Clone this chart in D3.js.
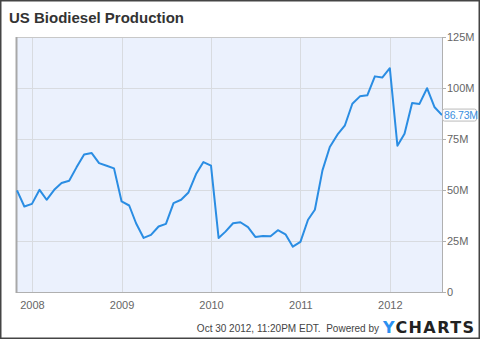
<!DOCTYPE html>
<html>
<head>
<meta charset="utf-8">
<script src="https://cdn.jsdelivr.net/npm/d3@7/dist/d3.min.js"></script>
<style>
html,body{margin:0;padding:0;background:#fff;}
svg{display:block;font-family:"Liberation Sans",Arial,sans-serif;}
</style>
</head>
<body>
<svg id="chart" width="480" height="339"></svg>
<script>
// Monthly data, Nov 2007 .. Aug 2012 (millions of gallons)
const startMonth = [2007, 10]; // year, zero-based month (Nov 2007)
const values = [
  49.8, 41.9,
  43.2, 50.1, 45.2, 50.1, 53.4, 54.5, 61.1, 67.4, 68.1, 63.2, 61.9, 60.6,
  44.4, 42.4, 33.7, 26.5, 28.0, 32.1, 33.4, 43.6, 45.2, 48.8, 57.8, 63.7,
  61.9, 26.5, 29.6, 33.7, 34.2, 31.8, 27.0, 27.5, 27.3, 30.3, 28.3, 22.2,
  24.6, 35.4, 40.3, 59.6, 71.1, 77.1, 81.5, 92.3, 95.9, 96.4, 105.7, 105.1,
  109.7, 71.7, 77.6, 92.7, 92.2, 99.9, 90.7, 86.73
];
const yTicks = [0, 25, 50, 75, 100, 125];
const yTickLabels = ["0", "25M", "50M", "75M", "100M", "125M"];
const xTickYears = [2008, 2009, 2010, 2011, 2012];
const xTickLabels = ["2008", "2009", "2010", "2011", "2012"];
const lastLabel = "86.73M";
const title = "US Biodiesel Production";
const footer = "Oct 30 2012, 11:20PM EDT.  Powered by";

const dates = values.map((v, i) => new Date(startMonth[0], startMonth[1] + i, 1));
const data = values.map((v, i) => ({date: dates[i], value: v}));

const svg = d3.select("#chart");
const W = 480, H = 339;
const pLeft = 17, pRight = 442, pTop = 37, pBottom = 292;

// outer border
svg.append("rect").attr("x", 0.75).attr("y", 0.75).attr("width", W - 1.5).attr("height", H - 1.5)
  .attr("fill", "#fff").attr("stroke", "#444").attr("stroke-width", 1.5);

svg.append("text").attr("x", 9).attr("y", 23).text(title)
  .attr("font-size", 15).attr("font-weight", "bold").attr("fill", "#333");

const x = d3.scaleTime().domain([dates[0], dates[dates.length - 1]]).range([pLeft, pRight]);
const y = d3.scaleLinear().domain([0, 125]).range([pBottom, pTop]);

svg.append("rect").attr("x", pLeft).attr("y", pTop).attr("width", pRight - pLeft).attr("height", pBottom - pTop)
  .attr("fill", "#ebf1fd");

// gridlines
svg.append("g").selectAll("line").data(yTicks.slice(1, -1)).join("line")
  .attr("x1", pLeft).attr("x2", pRight).attr("y1", d => Math.round(y(d)) + 0.5).attr("y2", d => Math.round(y(d)) + 0.5)
  .attr("stroke", "#d8dbe0").attr("stroke-width", 1);
svg.append("g").selectAll("line").data(xTickYears).join("line")
  .attr("x1", d => Math.round(x(new Date(d, 0, 1))) + 0.5).attr("x2", d => Math.round(x(new Date(d, 0, 1))) + 0.5)
  .attr("y1", pTop).attr("y2", pBottom)
  .attr("stroke", "#d8dbe0").attr("stroke-width", 1);

// frame
svg.append("line").attr("x1", pLeft).attr("x2", pRight).attr("y1", pTop + 0.5).attr("y2", pTop + 0.5).attr("stroke", "#c8c8c8");
svg.append("line").attr("x1", pLeft).attr("x2", pRight + 1).attr("y1", pBottom + 0.5).attr("y2", pBottom + 0.5).attr("stroke", "#b0b0b0");
svg.append("line").attr("x1", pLeft - 0.5).attr("x2", pLeft - 0.5).attr("y1", pTop).attr("y2", pBottom + 1).attr("stroke", "#a8a8a8").attr("stroke-width", 2);
svg.append("line").attr("x1", pRight + 0.5).attr("x2", pRight + 0.5).attr("y1", pTop).attr("y2", pBottom + 1).attr("stroke", "#b0b0b0");

// y axis labels
const yAxis = d3.axisRight(y).tickValues(yTicks).tickFormat((d, i) => yTickLabels[i]).tickSize(3).tickPadding(1);
const ya = svg.append("g").attr("transform", `translate(${pRight + 1},0)`).call(yAxis);
ya.select(".domain").remove();
ya.selectAll("line").attr("stroke", "#b0b0b0");
ya.selectAll("text").attr("font-size", 11).attr("fill", "#666").attr("font-family", "Liberation Sans, Arial, sans-serif");

// x axis labels
const xAxis = d3.axisBottom(x).tickValues(xTickYears.map(d => new Date(d, 0, 1)))
  .tickFormat((d, i) => xTickLabels[i]).tickSize(0).tickPadding(9);
const xa = svg.append("g").attr("transform", `translate(0,${pBottom})`).call(xAxis);
xa.select(".domain").remove();
xa.selectAll("text").attr("font-size", 11).attr("fill", "#666").attr("font-family", "Liberation Sans, Arial, sans-serif");

// line
const line = d3.line().x(d => x(d.date)).y(d => y(d.value));
svg.append("path").datum(data).attr("d", line)
  .attr("fill", "none").attr("stroke", "#2a8de3").attr("stroke-width", 2).attr("stroke-linejoin", "round");

// last value label
const last = data[data.length - 1];
const ly = y(last.value);
const lg = svg.append("g");
lg.append("rect").attr("x", pRight + 0.5).attr("y", ly - 6).attr("width", 34).attr("height", 12)
  .attr("rx", 2).attr("fill", "#fff").attr("stroke", "#bbb");
lg.append("text").attr("x", pRight + 2).attr("y", ly + 3.8).text(lastLabel)
  .attr("font-size", 10.5).attr("letter-spacing", -0.2).attr("fill", "#3b8fe0");

// footer
svg.append("text").attr("x", 379).attr("y", 332).attr("text-anchor", "end").text(footer)
  .attr("font-size", 10).attr("fill", "#444").style("white-space", "pre");
const logo = svg.append("text").attr("x", 383).attr("y", 333).attr("font-size", 16).attr("font-weight", "bold")
  .attr("letter-spacing", 1.4).attr("font-family", "DejaVu Sans, sans-serif");
logo.append("tspan").text("Y").attr("fill", "#2b90f0");
logo.append("tspan").text("CHARTS").attr("fill", "#222");
</script>
</body>
</html>
